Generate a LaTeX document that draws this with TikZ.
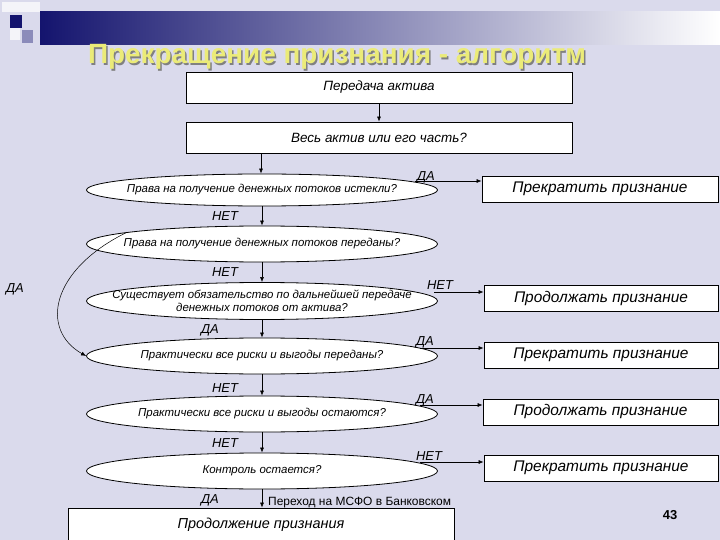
\documentclass[tikz,border=0pt]{standalone}
\usepackage{fontspec}
\setmainfont{Liberation Sans}
\usetikzlibrary{shapes.geometric,arrows.meta,shadings}
\definecolor{bg}{RGB}{218,218,236}
\definecolor{navy}{RGB}{20,20,110}
\definecolor{ttl}{RGB}{235,235,120}
\tikzset{
  bx/.style={draw=black,fill=white,line width=0.8pt,minimum height=#1,inner sep=0pt,font=\fontsize{13.5}{14}\selectfont\itshape},
  bx/.default=31bp,
  rbx/.style={draw=black,fill=white,line width=0.8pt,minimum height=26bp,minimum width=234bp,inner sep=0pt,font=\fontsize{15.5}{16}\selectfont\itshape},
  el/.style={ellipse,draw=black,fill=white,line width=0.8pt,minimum width=351bp,minimum height=#1,inner xsep=-80bp,inner ysep=-6bp,font=\fontsize{11.5}{12.5}\selectfont\itshape,align=center},
  el/.default=36bp,
  lbl/.style={font=\fontsize{13}{14}\selectfont\itshape,inner sep=0pt},
  ar/.style={-{Latex[length=5bp,width=4bp]},line width=0.6pt}
}
\begin{document}
\begin{tikzpicture}[x=1bp,y=-1bp]
\useasboundingbox (0,0) rectangle (720,540);
\fill[bg] (0,0) rectangle (720,540);
\shade[left color=navy,right color=white] (40,12) rectangle (720,45);
\fill[navy] (10,15) rectangle (22,28);
\fill[white!70!bg] (2,2) rectangle (40,12);
\fill[white!70!bg] (10,28) rectangle (20,40);
\fill[bg!60!navy] (22,30) rectangle (33,43);
\node[font=\fontsize{28}{30}\selectfont\bfseries,text=black!50] at (338.5,58.5) {Прекращение признания - алгоритм};
\node[font=\fontsize{28}{30}\selectfont\bfseries,text=ttl] (title) at (337,57) {Прекращение признания - алгоритм};

\node[bx,minimum width=386bp] (b1) at (379,87.5) {Передача актива};
\node[bx,minimum width=386bp] (b2) at (379,137.5) {Весь актив или его часть?};
\node[el=32bp] (e1) at (262,190) {Права на получение денежных потоков истекли?};
\node[el] (e2) at (262,244) {Права на получение денежных потоков переданы?};
\node[el=37bp] (e3) at (262,301) {Существует обязательство по дальнейшей передаче\\денежных потоков от актива?};
\node[el] (e4) at (262,356) {Практически все риски и выгоды переданы?};
\node[el] (e5) at (262,414) {Практически все риски и выгоды остаются?};
\node[el] (e6) at (262,471) {Контроль остается?};
\node[bx=34bp,minimum width=386bp,font=\fontsize{14.5}{15}\selectfont\itshape] (b3) at (261,525) {Продолжение признания};

\node[rbx,minimum width=236bp] (r1) at (600,189) {Прекратить признание};
\node[rbx] (r2) at (601,298.5) {Продолжать признание};
\node[rbx] (r3) at (601,355) {Прекратить признание};
\node[rbx,minimum width=235bp] (r4) at (600.5,412) {Продолжать признание};
\node[rbx] (r5) at (601,468) {Прекратить признание};

\draw[ar] (b1.south -| 379,0) -- (b2.north -| 379,0);
\draw[ar] (b2.south -| 261,0) -- (e1.north -| 261,0);
\draw[ar] (e1) -- (e2);
\draw[ar] (e2) -- (e3);
\draw[ar] (e3) -- (e4);
\draw[ar] (e4) -- (e5);
\draw[ar] (e5) -- (e6);
\draw[ar] (e6.south) -- (b3.north -| e6.south);

\coordinate (c1) at (415,181);
\draw[ar] (c1) -- (r1.west |- c1);
\coordinate (c3) at (434,292);
\draw[ar] (c3) -- (r2.west |- c3);
\coordinate (c4) at (420,348);
\draw[ar] (c4) -- (r3.west |- c4);
\coordinate (c5) at (420,405);
\draw[ar] (c5) -- (r4.west |- c5);
\coordinate (c6) at (420,462);
\draw[ar] (c6) -- (r5.west |- c6);

\draw[ar,line width=0.5pt] (e2.175) .. controls (50,270) and (40,330) .. (e4.west);

\node[lbl] (l1) at (426,177) {ДА};
\node[lbl] (l2) at (225,216) {НЕТ};
\node[lbl] (l3) at (225,272) {НЕТ};
\node[lbl] (l4) at (440,285) {НЕТ};
\node[lbl] (l5) at (210,330) {ДА};
\node[lbl] (l6) at (425,342) {ДА};
\node[lbl] (l7) at (15,289) {ДА};
\node[lbl] (l8) at (225,388) {НЕТ};
\node[lbl] (l9) at (425,400) {ДА};
\node[lbl] (l10) at (225,443) {НЕТ};
\node[lbl] (l11) at (429,456) {НЕТ};
\node[lbl] (l12) at (210,500) {ДА};
\node[anchor=west,inner sep=0pt,font=\fontsize{12}{13}\selectfont] (note) at (268,503) {Переход на МСФО в Банковском};
\node[font=\fontsize{13}{14}\selectfont\bfseries] (pg) at (670,515) {43};
\end{tikzpicture}
\end{document}
